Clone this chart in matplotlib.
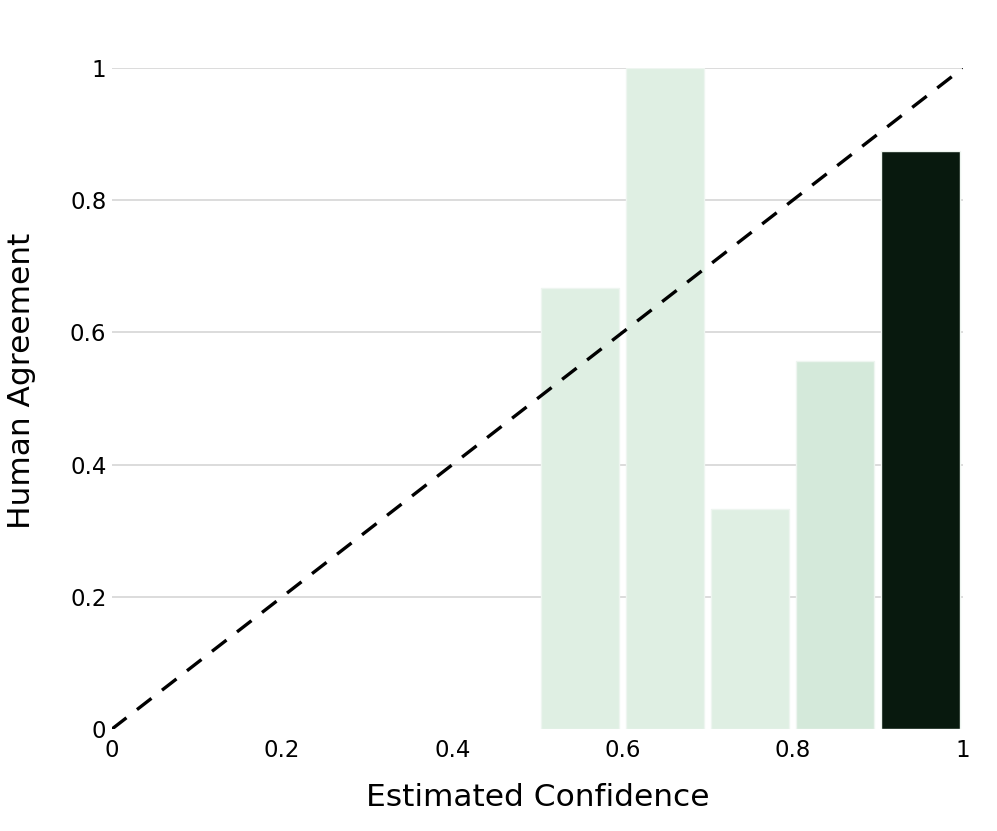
import numpy as np
import matplotlib.pyplot as plt

plt.rcParams['font.family'] = ['DejaVu Sans']

# calibration bins
bin_centers = [0.55, 0.65, 0.75, 0.85, 0.95]
agreement = [0.667, 1.0, 0.333, 0.556, 0.875]
bar_colors = ['#dfefe3', '#dfefe3', '#dfefe3', '#d4e9da', '#08190e']
ticks = [0, 0.2, 0.4, 0.6, 0.8, 1]
tick_labels = ['0', '0.2', '0.4', '0.6', '0.8', '1']

fig = plt.figure(figsize=(9.97, 8.31), dpi=100)
ax = fig.add_axes([0.1123, 0.1227, 0.8536, 0.7955])

for y in ticks[1:]:
    ax.axhline(y, color='#d9d9d9', lw=1.3, zorder=0)

ax.bar(bin_centers, agreement, width=0.092, color=bar_colors,
       edgecolor='#eef5f0', linewidth=1, zorder=2)
ax.plot([0, 1], [0, 1], color='black', lw=2.4, dashes=(5.5, 4), zorder=3)

ax.set_xlim(0, 1)
ax.set_ylim(0, 1)
ax.set_xticks(ticks)
ax.set_xticklabels(tick_labels)
ax.set_yticks(ticks)
ax.set_yticklabels(tick_labels)
ax.tick_params(length=0, labelsize=16.5)
ax.tick_params(axis='x', pad=7)
ax.tick_params(axis='y', pad=4)
for s in ax.spines.values():
    s.set_visible(False)

ax.set_xlabel('Estimated Confidence', fontsize=22.5)
ax.set_ylabel('Human Agreement', fontsize=22.5)
ax.xaxis.set_label_coords(0.5, -0.104)
ax.xaxis.label.set_va('center')
ax.yaxis.set_label_coords(-0.106, 0.526)
ax.yaxis.label.set_va('center')

fig.savefig('out.png', dpi=100)
